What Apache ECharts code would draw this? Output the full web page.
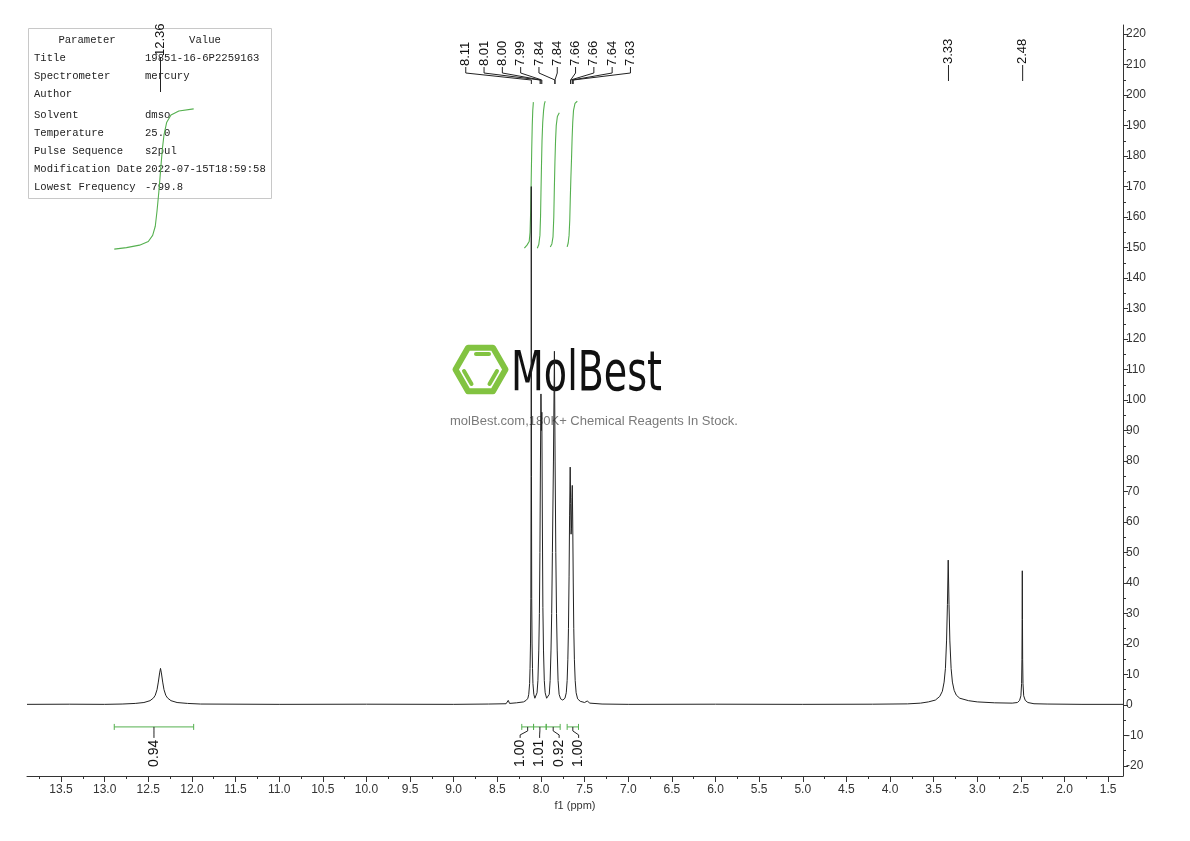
<!DOCTYPE html>
<html>
<head>
<meta charset="utf-8">
<script src="https://cdn.jsdelivr.net/npm/echarts@6/dist/echarts.min.js"></script>
<style>
html,body{margin:0;padding:0;background:#fff;}
#chart{width:1190px;height:841px;}
</style>
</head>
<body>
<div id="chart"></div>
<script>
// ---------------- DATA ----------------
// axis tick labels
const xTickLabels = [13.5,13.0,12.5,12.0,11.5,11.0,10.5,10.0,9.5,9.0,8.5,8.0,7.5,7.0,6.5,6.0,5.5,5.0,4.5,4.0,3.5,3.0,2.5,2.0,1.5];
const yTickLabels = [-20,-10,0,10,20,30,40,50,60,70,80,90,100,110,120,130,140,150,160,170,180,190,200,210,220];

// spectrum (ppm, intensity)
const specBaseLeft = [[13.89,0.2],[13.4,0.25],[13.0,0.2],[12.8,0.3]];
const specPeak1236 = [[12.65,0.5],[12.55,0.8],[12.48,1.4],[12.44,2.3],[12.42,3.2],[12.40,5.0],[12.385,7.5],[12.37,10.5],[12.36,12.0],[12.35,10.5],[12.335,7.5],[12.32,5.0],[12.30,3.2],[12.28,2.3],[12.24,1.4],[12.17,0.8],[12.05,0.5]];
const specBaseMid = [[11.9,0.3],[11.0,0.2],[10.0,0.25],[9.0,0.2],[8.6,0.3],[8.40,0.4],[8.375,1.5],[8.36,0.5],[8.28,0.7]];
const specAromatic = [
  [8.20,1.0],[8.17,1.5],[8.15,2.2],[8.14,3.5],[8.13,7],[8.125,12],[8.12,20],[8.116,35],[8.113,75],[8.111,170],[8.109,75],[8.106,35],[8.102,20],[8.097,12],[8.092,7],[8.082,3.5],[8.07,2.2],[8.055,2.2],
  [8.045,4],[8.035,8],[8.025,18],[8.018,30],[8.012,50],[8.006,80],[8.000,102],[7.995,90],[7.990,96],[7.984,60],[7.978,32],[7.971,18],[7.962,8],[7.952,4],[7.935,2.2],[7.92,1.8],
  [7.905,3.5],[7.895,8],[7.885,18],[7.877,30],[7.869,50],[7.857,80],[7.846,116],[7.838,80],[7.830,50],[7.822,30],[7.814,18],[7.804,8],[7.792,3.5],[7.775,2],[7.75,1.6],
  [7.725,2.2],[7.71,4],[7.70,8],[7.692,15],[7.685,25],[7.678,42],[7.672,62],[7.665,78],[7.660,66],[7.655,56],[7.650,58],[7.645,68],[7.641,72],[7.636,60],[7.630,40],[7.624,25],[7.617,15],[7.608,8],[7.597,4],[7.58,2],[7.55,1.2],[7.50,0.8],[7.47,1.3],[7.44,0.6]
];
const specBaseRight = [[7.3,0.3],[7.0,0.2],[6.0,0.25],[5.0,0.2],[4.2,0.25],[3.8,0.35]];
const specPeak333 = [[3.65,0.6],[3.56,1.0],[3.48,1.6],[3.43,2.8],[3.40,4.5],[3.38,7.5],[3.365,12],[3.352,21],[3.342,33],[3.333,47.5],[3.324,33],[3.314,21],[3.30,12],[3.285,7.5],[3.265,4.8],[3.24,3.2],[3.20,2.2],[3.10,1.4],[3.0,1.0],[2.8,0.7],[2.6,0.6]];
const specPeak248 = [[2.54,0.8],[2.515,1.5],[2.50,3],[2.492,7],[2.488,15],[2.486,28],[2.484,44],[2.482,28],[2.48,15],[2.476,7],[2.468,3],[2.45,1.5],[2.42,0.8],[2.35,0.4]];
const specBaseEnd = [[2.2,0.3],[1.8,0.2],[1.33,0.2]];

// integral curves (ppm, curve height on the intensity scale)
const intCurve1236 = [[12.89,149.5],[12.75,150],[12.6,150.8],[12.5,152],[12.45,154],[12.42,157],[12.40,162],[12.38,168],[12.36,175],[12.34,182],[12.32,187],[12.29,191],[12.24,193.5],[12.15,194.8],[11.98,195.5]];
const intCurve811 = [[8.19,149.8],[8.16,150.8],[8.135,152],[8.125,155],[8.118,162],[8.112,172],[8.106,182],[8.10,190],[8.094,195],[8.087,197.7]];
const intCurve800 = [[8.042,149.8],[8.025,151],[8.012,154],[8.005,160],[8.0,168],[7.994,177],[7.988,185],[7.98,191],[7.97,195],[7.96,197.2],[7.951,198]];
const intCurve784 = [[7.893,150.2],[7.875,151.2],[7.862,153.5],[7.853,160],[7.847,169],[7.84,178],[7.833,185],[7.825,190],[7.812,193],[7.79,194.2]];
const intCurve765 = [[7.70,150.2],[7.688,151.5],[7.678,154],[7.67,159],[7.664,166],[7.657,173],[7.65,179],[7.643,186],[7.636,191],[7.627,195],[7.61,197.3],[7.584,198]];

// integral ranges and values
const integralFrom  = [12.89, 8.22, 8.085, 7.94, 7.70];
const integralTo    = [11.98, 8.085, 7.94, 7.78, 7.57];
const integralValue = [0.94, 1.00, 1.01, 0.92, 1.00];
const integralGroup = [0, 1, 1, 1, 1];

// peak labels
const peakLabelPpm   = [8.11, 8.01, 8.00, 7.99, 7.84, 7.84, 7.66, 7.66, 7.64, 7.63, 3.33, 2.48, 12.36];
const peakLabelGroup = [0, 0, 0, 0, 0, 0, 0, 0, 0, 0, 1, 2, 3];

// parameter table
const tableParams = ['Title','Spectrometer','Author','Solvent','Temperature','Pulse Sequence','Modification Date','Lowest Frequency'];
const tableValues = ['19851-16-6P2259163','mercury','','dmso','25.0','s2pul','2022-07-15T18:59:58','-799.8'];

// ---------------- STYLE / LAYOUT ----------------
const SANS = '"Liberation Sans", Arial, sans-serif';
const MONO = '"Liberation Mono", "DejaVu Sans Mono", monospace';
const GREEN = '#55b04f';
const LOGO_GREEN = '#82c341';
const X_MIN = 1.33, X_MAX = 13.89, Y_MIN = -23.3, Y_MAX = 223;
const INTEGRAL_BAR_Y = -7.2;

const xMinor = xTickLabels.map(v => v + 0.25).filter(v => v < X_MAX);
const yMinor = yTickLabels.map(v => v + 5).filter(v => v < Y_MAX);

const spectrum = [].concat(specBaseLeft, specPeak1236, specBaseMid, specAromatic, specBaseRight, specPeak333, specPeak248, specBaseEnd);
const intCurves = [intCurve1236, intCurve811, intCurve800, intCurve784, intCurve765];

const peakLayout = [
  {textBottom: 66, y1: 67, y2: 73, y3: 80, y4: 84, spacing: 18.3, shift: -7},
  {textBottom: 64, y1: 65, y2: 65, y3: 65, y4: 81, spacing: 0, shift: 0},
  {textBottom: 64, y1: 65, y2: 65, y3: 65, y4: 81, spacing: 0, shift: 0},
  {textBottom: 56, y1: 57, y2: 57, y3: 57, y4: 92, spacing: 0, shift: 0}
];

function mean(a){ return a.reduce((s,v)=>s+v,0)/a.length; }

function renderPeakLabel(params, api){
  const i = params.dataIndex;
  const g = peakLabelGroup[i];
  const members = [];
  peakLabelGroup.forEach((gg, j) => { if (gg === g) members.push(j); });
  const k = members.indexOf(i), n = members.length;
  const pxs = members.map(j => api.coord([peakLabelPpm[j], 0])[0]);
  const L = peakLayout[g];
  const lx = mean(pxs) + L.shift + (k - (n - 1) / 2) * L.spacing;
  const px = api.coord([api.value(0), 0])[0];
  return {
    type: 'group',
    children: [
      {type: 'text', x: lx, y: L.textBottom, rotation: Math.PI / 2,
       style: {text: peakLabelPpm[i].toFixed(2), font: '13px ' + SANS, fill: '#111', align: 'left', verticalAlign: 'middle'}},
      {type: 'polyline', shape: {points: [[lx, L.y1], [lx, L.y2], [px, L.y3], [px, L.y4]]},
       style: {stroke: '#222', lineWidth: 1, fill: null}}
    ]
  };
}

function renderIntegral(params, api){
  const i = params.dataIndex;
  const g = integralGroup[i];
  const members = [];
  integralGroup.forEach((gg, j) => { if (gg === g) members.push(j); });
  const k = members.indexOf(i), n = members.length;
  const centers = members.map(j => (api.coord([integralFrom[j], 0])[0] + api.coord([integralTo[j], 0])[0]) / 2);
  const lx = mean(centers) + (n > 1 ? 1 : 0) + (k - (n - 1) / 2) * 19.5;
  const a = api.coord([integralFrom[i], INTEGRAL_BAR_Y]);
  const b = api.coord([integralTo[i], INTEGRAL_BAR_Y]);
  const y = a[1];
  const bc = (a[0] + b[0]) / 2;
  return {
    type: 'group',
    children: [
      {type: 'line', shape: {x1: a[0], y1: y, x2: b[0], y2: y}, style: {stroke: GREEN, lineWidth: 1}},
      {type: 'line', shape: {x1: a[0], y1: y - 3, x2: a[0], y2: y + 3}, style: {stroke: GREEN, lineWidth: 1}},
      {type: 'line', shape: {x1: b[0], y1: y - 3, x2: b[0], y2: y + 3}, style: {stroke: GREEN, lineWidth: 1}},
      {type: 'polyline', shape: {points: [[bc, y], [bc, y + 4], [lx, y + 8], [lx, y + 11]]}, style: {stroke: '#222', lineWidth: 1, fill: null}},
      {type: 'text', x: lx, y: y + 40, rotation: Math.PI / 2,
       style: {text: integralValue[i].toFixed(2), font: '14px ' + SANS, fill: '#111', align: 'left', verticalAlign: 'middle'}}
    ]
  };
}

// table graphics
const TFONT = '10.6px ' + MONO;
const tableGraphics = [
  {type: 'rect', z: 1, shape: {x: 28.5, y: 28.5, width: 243, height: 170}, style: {fill: '#fff', stroke: '#c8c8c8', lineWidth: 1}},
  {type: 'text', z: 1, x: 87, y: 40, style: {text: 'Parameter', font: TFONT, fill: '#222', align: 'center', verticalAlign: 'middle'}},
  {type: 'text', z: 1, x: 205, y: 40, style: {text: 'Value', font: TFONT, fill: '#222', align: 'center', verticalAlign: 'middle'}}
];
tableParams.forEach((p, i) => {
  const y = 58 + 18 * i + (i >= 3 ? 3.5 : 0);
  tableGraphics.push({type: 'text', z: 1, x: 34, y: y, style: {text: p, font: TFONT, fill: '#222', align: 'left', verticalAlign: 'middle'}});
  tableGraphics.push({type: 'text', z: 1, x: 145, y: y, style: {text: tableValues[i], font: TFONT, fill: '#222', align: 'left', verticalAlign: 'middle'}});
});

// watermark graphics
const hx = 480.5, hy = 369.5, hr = 25;
const hexPts = [];
for (let a = 0; a < 6; a++) {
  const t = a * Math.PI / 3;
  hexPts.push([hx + hr * Math.cos(t), hy + hr * Math.sin(t)]);
}
const watermark = [
  {type: 'polygon', z: 1, shape: {points: hexPts}, style: {fill: null, stroke: LOGO_GREEN, lineWidth: 6, lineJoin: 'round'}},
  {type: 'line', z: 1, shape: {x1: 476, y1: 354, x2: 489, y2: 354}, style: {stroke: LOGO_GREEN, lineWidth: 4, lineCap: 'round'}},
  {type: 'line', z: 1, shape: {x1: 464, y1: 371, x2: 471.5, y2: 384}, style: {stroke: LOGO_GREEN, lineWidth: 4, lineCap: 'round'}},
  {type: 'line', z: 1, shape: {x1: 497, y1: 371, x2: 489.5, y2: 384}, style: {stroke: LOGO_GREEN, lineWidth: 4, lineCap: 'round'}},
  {type: 'text', z: 1, x: 511, y: 375, scaleX: 0.68, style: {text: 'MolBest', font: '56px "DejaVu Sans", sans-serif', fill: '#111', align: 'left', verticalAlign: 'middle'}},
  {type: 'text', z: 1, x: 594, y: 421, style: {text: 'molBest.com,180K+ Chemical Reagents In Stock.', font: '13px ' + SANS, fill: '#7a7a7a', align: 'center', verticalAlign: 'middle'}}
];

// ---------------- CHART ----------------
const chart = echarts.init(document.getElementById('chart'), null, {renderer: 'canvas'});
const axisText = {fontFamily: SANS, fontSize: 12, color: '#333'};

const series = [
  {type: 'line', name: 'spectrum', data: spectrum, showSymbol: false, symbol: 'none', silent: true, z: 5,
   lineStyle: {color: '#222', width: 1}, animation: false}
];
intCurves.forEach(c => series.push({type: 'line', data: c, showSymbol: false, symbol: 'none', silent: true, z: 4,
   lineStyle: {color: GREEN, width: 1.1}, animation: false}));
series.push({type: 'custom', name: 'peakLabels', data: peakLabelPpm.map((p, i) => [p, i]), renderItem: renderPeakLabel, silent: true, z: 6, clip: false});
series.push({type: 'custom', name: 'integrals', data: integralFrom.map((p, i) => [p, i]), renderItem: renderIntegral, silent: true, z: 6, clip: false});

chart.setOption({
  animation: false,
  backgroundColor: '#fff',
  grid: {left: 27, right: 67, top: 25, bottom: 65, containLabel: false, outerBoundsMode: 'none'},
  xAxis: [
    {type: 'value', min: X_MIN, max: X_MAX, inverse: true, position: 'bottom', offset: 0,
     name: 'f1 (ppm)', nameLocation: 'middle', nameGap: 22,
     nameTextStyle: {fontFamily: SANS, fontSize: 11, color: '#333'},
     axisLine: {show: true, onZero: false, lineStyle: {color: '#333', width: 1}},
     axisTick: {show: true, customValues: xTickLabels, length: 6, lineStyle: {color: '#333'}},
     axisLabel: {show: true, customValues: xTickLabels, formatter: v => Number(v).toFixed(1), margin: 8, ...axisText},
     splitLine: {show: false}},
    {type: 'value', min: X_MIN, max: X_MAX, inverse: true, position: 'bottom', offset: 0,
     axisLine: {show: false, onZero: false},
     axisTick: {show: true, customValues: xMinor, length: 3, lineStyle: {color: '#333'}},
     axisLabel: {show: false}, splitLine: {show: false}}
  ],
  yAxis: [
    {type: 'value', min: Y_MIN, max: Y_MAX, position: 'right', offset: 0,
     axisLine: {show: true, onZero: false, lineStyle: {color: '#333', width: 1}},
     axisTick: {show: true, customValues: yTickLabels, length: 5, lineStyle: {color: '#333'}},
     axisLabel: {show: true, customValues: yTickLabels, margin: 3, ...axisText},
     splitLine: {show: false}},
    {type: 'value', min: Y_MIN, max: Y_MAX, position: 'right', offset: 0,
     axisLine: {show: false, onZero: false},
     axisTick: {show: true, customValues: yMinor, length: 3, lineStyle: {color: '#333'}},
     axisLabel: {show: false}, splitLine: {show: false}}
  ],
  graphic: tableGraphics.concat(watermark),
  series: series
});
</script>
</body>
</html>
